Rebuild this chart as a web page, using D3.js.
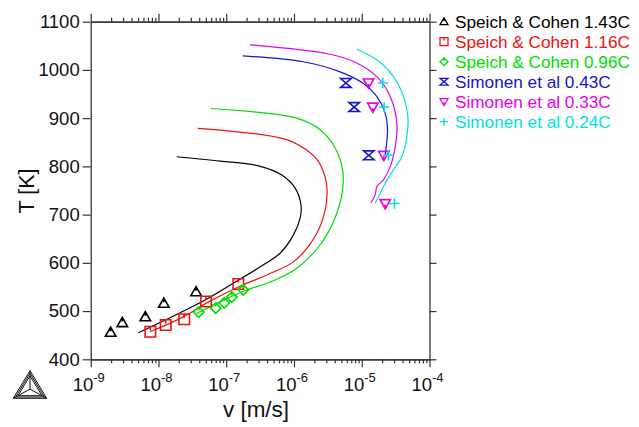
<!DOCTYPE html>
<html>
<head>
<meta charset="utf-8">
<script src="https://cdn.jsdelivr.net/npm/d3@7"></script>
<style>
  html, body { margin: 0; padding: 0; background: #fff; }
  svg { display: block; font-family: "Liberation Sans", Arial, Helvetica, sans-serif; }
</style>
</head>
<body>
<svg id="chart" width="639" height="427"></svg>
<script>
// Series names and colours
const seriesNames = ["Speich & Cohen 1.43C", "Speich & Cohen 1.16C", "Speich & Cohen 0.96C",
                     "Simonen et al 0.43C", "Simonen et al 0.33C", "Simonen et al 0.24C"];
const seriesColors = ["#000000", "#ee1111", "#00dd00", "#1515d0", "#e600e6", "#00e0e0"];
const seriesMarkers = ["triangleUp", "square", "diamond", "hourglass", "triangleDown", "plus"];

// Calculated growth-rate curves, v [m/s] and T [K]
const line143V = [1.86e-8, 8.11e-8, 2.99e-7, 6.61e-7, 1.04e-6, 1.27e-6, 1.23e-6, 9.82e-7, 6.24e-7, 3.54e-7, 1.51e-7, 5.04e-8, 1.28e-8, 5.05e-9];
const line143T = [820, 811, 801, 782, 755, 720, 692, 658, 620, 596, 564, 524, 482, 455];
const line116V = [3.80e-8, 7.14e-7, 1.46e-6, 2.30e-6, 2.99e-6, 3.05e-6, 2.58e-6, 1.73e-6, 9.82e-7, 4.45e-7, 1.51e-7, 5.16e-8, 2.33e-8, 7.52e-9];
const line116T = [879, 857, 836, 810, 768, 734, 685, 639, 602, 578, 550, 517, 488, 457];
const line096V = [5.97e-8, 1.10e-6, 2.43e-6, 4.06e-6, 5.26e-6, 5.08e-6, 3.82e-6, 2.43e-6, 1.10e-6, 4.97e-7, 1.79e-7, 8.11e-8, 3.67e-8];
const line096T = [920, 900, 876, 838, 789, 741, 685, 637, 589, 563, 541, 519, 495];
const line043V = [1.76e-7, 1.38e-6, 4.80e-6, 1.06e-5, 1.67e-5, 2.22e-5, 2.40e-5, 2.30e-5, 2.22e-5];
const line043T = [1029, 1017, 996, 972, 945, 910, 876, 841, 824];
const line033V = [2.25e-7, 3.23e-6, 8.00e-6, 1.67e-5, 2.63e-5, 3.30e-5, 3.12e-5, 2.63e-5, 2.09e-5, 1.67e-5, 1.58e-5, 1.36e-5];
const line033T = [1052, 1033, 1016, 986, 945, 889, 841, 799, 772, 758, 741, 724];
const line024V = [8.47e-6, 1.67e-5, 2.94e-5, 4.13e-5, 4.80e-5, 4.63e-5, 3.91e-5, 2.94e-5, 2.22e-5, 1.87e-5, 1.58e-5];
const line024T = [1043, 1021, 986, 945, 903, 862, 820, 793, 765, 744, 724];

// Measured growth rates
const exp143V = [1.97e-9, 2.93e-9, 6.4e-9, 1.2e-8, 3.59e-8];
const exp143T = [456, 476, 488, 516, 540];
const exp116V = [7.59e-9, 1.28e-8, 2.40e-8, 5.04e-8, 1.51e-7];
const exp116T = [457, 471, 483, 520, 556];
const exp096V = [3.93e-8, 7.01e-8, 9.36e-8, 1.21e-7, 1.79e-7];
const exp096T = [498, 506, 517, 529, 544];
const exp043V = [5.83e-6, 7.73e-6, 1.27e-5];
const exp043T = [973, 923, 823];
const exp033V = [1.26e-5, 1.46e-5, 2.12e-5, 2.22e-5];
const exp033T = [973, 923, 823, 723];
const exp024V = [2.05e-5, 2.14e-5, 2.48e-5, 3.04e-5];
const exp024T = [973, 923, 823, 723];

// Axis ticks
const xTickExps = [-9, -8, -7, -6, -5, -4];
const yTicks = [400, 500, 600, 700, 800, 900, 1000, 1100];

const lineV = [line143V, line116V, line096V, line043V, line033V, line024V];
const lineT = [line143T, line116T, line096T, line043T, line033T, line024T];
const expV = [exp143V, exp116V, exp096V, exp043V, exp033V, exp024V];
const expT = [exp143T, exp116T, exp096T, exp043T, exp033T, exp024T];

const svg = d3.select("#chart");
const plotLeft = 90.7, plotRight = 429.5, plotTop = 21.7, plotBottom = 359.3;

const x = d3.scaleLog().domain([1e-9, 1e-4]).range([plotLeft, plotRight]);
const y = d3.scaleLinear().domain([400, 1100]).range([plotBottom, plotTop]);

const axisColor = "#333";
const majorLen = 8, minorLen = 4;

// Minor tick positions (2..9 in every decade)
const minorVals = [];
for (let e = -9; e < -4; e++) for (let m = 2; m <= 9; m++) minorVals.push(m * Math.pow(10, e));
const majorVals = xTickExps.map(e => Math.pow(10, e));

function styleAxis(g) {
  g.select(".domain").attr("stroke", axisColor).attr("stroke-width", 1.3);
  g.selectAll(".tick line").attr("stroke", axisColor).attr("stroke-width", 1.2);
}

// Bottom axis: minor ticks, then major ticks
svg.append("g").attr("transform", `translate(0,${plotBottom})`)
  .call(d3.axisBottom(x).tickValues(minorVals).tickSize(minorLen).tickSizeOuter(0).tickFormat(""))
  .call(styleAxis);
svg.append("g").attr("transform", `translate(0,${plotBottom})`)
  .call(d3.axisBottom(x).tickValues(majorVals).tickSize(majorLen).tickSizeOuter(0).tickFormat(""))
  .call(styleAxis);

// Top axis
svg.append("g").attr("transform", `translate(0,${plotTop})`)
  .call(d3.axisTop(x).tickValues(minorVals).tickSize(minorLen).tickSizeOuter(0).tickFormat(""))
  .call(styleAxis);
svg.append("g").attr("transform", `translate(0,${plotTop})`)
  .call(d3.axisTop(x).tickValues(majorVals).tickSize(majorLen).tickSizeOuter(0).tickFormat(""))
  .call(styleAxis);

// Left axis with labels
const yl = svg.append("g").attr("transform", `translate(${plotLeft},0)`)
  .call(d3.axisLeft(y).tickValues(yTicks).tickSize(majorLen).tickSizeOuter(0).tickPadding(3).tickFormat(d3.format("d")))
  .call(styleAxis);
yl.selectAll(".tick text").attr("font-size", 18.5).attr("fill", "#111")
  .attr("font-family", "'Liberation Sans', Arial, sans-serif");

// Right axis
svg.append("g").attr("transform", `translate(${plotRight},0)`)
  .call(d3.axisRight(y).tickValues(yTicks).tickSize(majorLen - 1).tickSizeOuter(0).tickFormat(""))
  .call(styleAxis);

// Power-of-ten labels under the bottom axis
xTickExps.forEach(e => {
  const t = svg.append("text")
    .attr("x", x(Math.pow(10, e)) - 2)
    .attr("y", 390.5)
    .attr("text-anchor", "middle")
    .attr("font-size", 18.5)
    .attr("fill", "#111");
  t.append("tspan").text("10");
  t.append("tspan").attr("font-size", 13).attr("dy", -8.5).text(String(e));
});

// Axis titles
svg.append("text")
  .attr("x", 256).attr("y", 417)
  .attr("text-anchor", "middle")
  .attr("font-size", 22.5)
  .attr("fill", "#111")
  .text("v [m/s]");
svg.append("text")
  .attr("transform", "translate(34,191) rotate(-90)")
  .attr("text-anchor", "middle")
  .attr("font-size", 21.5)
  .attr("fill", "#111")
  .text("T [K]");

// Curves
const lineGen = d3.line()
  .x(d => x(d[0]))
  .y(d => y(d[1]))
  .curve(d3.curveCatmullRom.alpha(0.5));

lineV.forEach((vs, i) => {
  const pts = vs.map((v, j) => [v, lineT[i][j]]);
  svg.append("path")
    .attr("d", lineGen(pts))
    .attr("fill", "none")
    .attr("stroke", seriesColors[i])
    .attr("stroke-width", 1.2);
});

// Marker outlines
function markerPath(kind, s) {
  const h = s / 2;
  switch (kind) {
    case "triangleUp":
      return `M0,${-h} L${h},${h * 0.75} L${-h},${h * 0.75} Z M0,${-h} L0,${-h * 0.2}`;
    case "square":
      return `M${-h},${-h} H${h} V${h} H${-h} Z M0,${-h} V${-h * 0.3}`;
    case "diamond":
      return `M0,${-h} L${h},0 L0,${h} L${-h},0 Z M0,${-h} V${-h * 0.3}`;
    case "hourglass":
      return `M${-h},${-h * 0.85} H${h} L${-h},${h * 0.85} H${h} Z`;
    case "triangleDown":
      return `M${-h},${-h * 0.75} H${h} L0,${h} Z M0,${h} V${h * 0.2}`;
    case "plus":
      return `M${-h},0 H${h} M0,${-h} V${h}`;
  }
}

expV.forEach((vs, i) => {
  svg.append("g").selectAll("path")
    .data(vs.map((v, j) => [v, expT[i][j]]))
    .join("path")
    .attr("transform", d => `translate(${x(d[0])},${y(d[1])})`)
    .attr("d", markerPath(seriesMarkers[i], 10.5))
    .attr("fill", "none")
    .attr("stroke", seriesColors[i])
    .attr("stroke-width", 1.6);
});

// Legend
const legend = svg.append("g");
seriesNames.forEach((name, i) => {
  const cy = 21.7 + i * 20;
  legend.append("path")
    .attr("transform", `translate(444,${cy})`)
    .attr("d", markerPath(seriesMarkers[i], 8))
    .attr("fill", "none")
    .attr("stroke", seriesColors[i])
    .attr("stroke-width", 1.3);
  legend.append("text")
    .attr("x", 455).attr("y", cy + 6)
    .attr("font-size", 17.2)
    .attr("fill", seriesColors[i])
    .text(name);
});

// Program logo in the lower-left corner
const logo = svg.append("g").attr("fill", "none").attr("stroke", "#111").attr("stroke-width", 1);
const apex = [30, 370.7], bl = [13.3, 398.3], br = [46.7, 398.3];
const cx = (apex[0] + bl[0] + br[0]) / 3, cyL = (apex[1] + bl[1] + br[1]) / 3;
[1, 0.86, 0.72].forEach(k => {
  const p = [apex, bl, br].map(q => [cx + (q[0] - cx) * k, cyL + (q[1] - cyL) * k]);
  logo.append("path").attr("d", `M${p[0]}L${p[1]}L${p[2]}Z`);
});
[apex, bl, br].forEach(q => {
  logo.append("path").attr("d", `M${cx},${cyL}L${q[0]},${q[1]}`);
});
</script>
</body>
</html>
